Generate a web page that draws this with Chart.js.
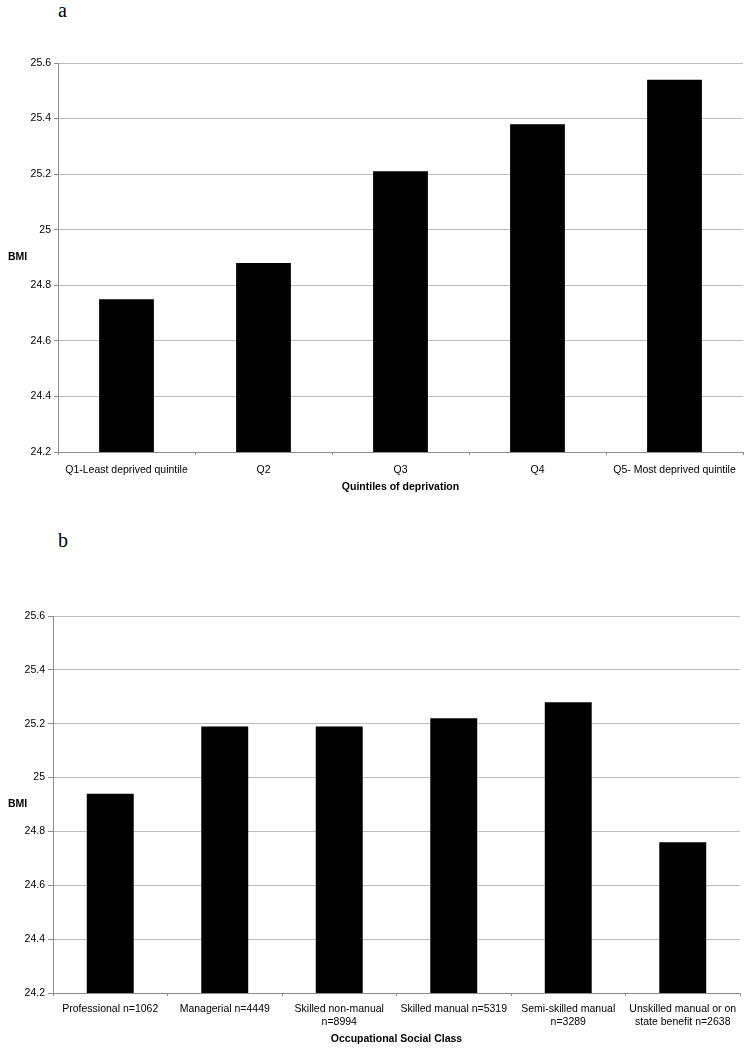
<!DOCTYPE html>
<html>
<head>
<meta charset="utf-8">
<script src="https://cdn.jsdelivr.net/npm/chart.js@4.4.1/dist/chart.umd.min.js"></script>
<style>
  body { margin: 0; background: #fff; width: 754px; height: 1048px; position: relative; overflow: hidden; }
  canvas { position: absolute; left: 0; }
  .panel { position: absolute; left: 58px; font-family: "Liberation Serif", serif; font-size: 20px; line-height: 20px; }
</style>
</head>
<body>
<div class="panel" style="top:0px">a</div>
<canvas id="chartA" width="754" height="450" style="top:50px"></canvas>
<div class="panel" style="top:530px">b</div>
<canvas id="chartB" width="754" height="448" style="top:600px"></canvas>

<script>
// panel a - deprivation quintiles
const quintileLabels = ["Q1-Least deprived quintile", "Q2", "Q3", "Q4", "Q5- Most deprived quintile"];
const quintileBmi = [24.75, 24.88, 25.21, 25.38, 25.54];

// panel b - occupational social class (multi-line labels as arrays)
const classLabels = [
  "Professional n=1062",
  "Managerial n=4449",
  ["Skilled non-manual", "n=8994"],
  "Skilled manual n=5319",
  ["Semi-skilled manual", "n=3289"],
  ["Unskilled manual or on", "state benefit n=2638"],
];
const classBmi = [24.94, 25.19, 25.19, 25.22, 25.28, 24.76];

// shared y axis
const yMin = 24.2;
const yMax = 25.6;
const yStep = 0.2;

const FONT = "'Liberation Sans', Arial, sans-serif";

// BMI label sits horizontally left of the axis, so draw it ourselves
const sideTitle = {
  id: "sideTitle",
  afterDraw(chart, args, opts) {
    const ctx = chart.ctx;
    const area = chart.chartArea;
    ctx.save();
    ctx.font = "bold 10.5px " + FONT;
    ctx.fillStyle = "#000";
    ctx.textAlign = "left";
    ctx.textBaseline = "middle";
    ctx.fillText(opts.text, opts.x, (area.top + area.bottom) / 2);
    ctx.restore();
  },
};

function makeChart(id, labels, values, o) {
  const ctx = document.getElementById(id).getContext("2d");
  return new Chart(ctx, {
    type: "bar",
    data: {
      labels: labels,
      datasets: [
        {
          data: values,
          backgroundColor: "#000",
          borderWidth: 0,
          categoryPercentage: 1,
          barPercentage: o.barPct,
        },
      ],
    },
    plugins: [sideTitle],
    options: {
      responsive: false,
      animation: false,
      devicePixelRatio: 1,
      layout: { padding: { top: o.padTop, right: o.padRight, left: 0, bottom: 0 } },
      plugins: {
        legend: { display: false },
        tooltip: { enabled: false },
        sideTitle: { text: "BMI", x: 8 },
      },
      scales: {
        x: {
          afterFit: (s) => { s.height = o.xHeight; },
          border: { color: "#8c8c8c" },
          grid: { drawOnChartArea: false, drawTicks: true, tickLength: 3, color: "#8c8c8c", offset: true },
          ticks: {
            color: "#000",
            font: { family: FONT, size: 10.5 },
            padding: o.xPad,
            maxRotation: 0,
            autoSkip: false,
          },
          title: {
            display: true,
            text: o.xTitle,
            color: "#000",
            font: { family: FONT, size: 10.5, weight: "bold" },
            padding: { top: 0, bottom: o.titlePad },
          },
        },
        y: {
          min: yMin,
          max: yMax,
          afterFit: (s) => { s.width = o.yWidth; },
          border: { color: "#8c8c8c" },
          grid: { color: "#bdbdbd", tickColor: "#8c8c8c", tickLength: o.yTick },
          ticks: {
            stepSize: yStep,
            color: "#000",
            font: { family: FONT, size: 10.5 },
            padding: 3,
            callback: (v) => String(+Number(v).toFixed(1)),
          },
        },
      },
    },
  });
}

makeChart("chartA", quintileLabels, quintileBmi, {
  barPct: 0.4, padTop: 13, padRight: 11, xHeight: 48, yWidth: 58, yTick: 4,
  xPad: 9, titlePad: 7, xTitle: "Quintiles of deprivation",
});

makeChart("chartB", classLabels, classBmi, {
  barPct: 0.41, padTop: 16, padRight: 14, xHeight: 55, yWidth: 53, yTick: 5,
  xPad: 7, titlePad: 3, xTitle: "Occupational Social Class",
});
</script>
</body>
</html>
